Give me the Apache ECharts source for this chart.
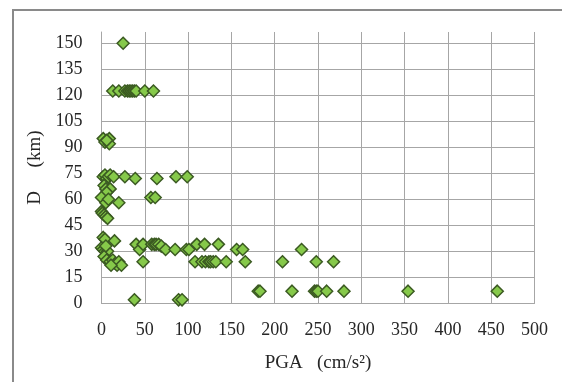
<!DOCTYPE html>
<html>
<head>
<meta charset="utf-8">
<script src="https://cdn.jsdelivr.net/npm/echarts@6/dist/echarts.min.js"></script>
<style>
  html, body { margin: 0; padding: 0; background: #ffffff; }
  #chart { width: 562px; height: 382px; }
</style>
</head>
<body>
<div id="chart"></div>
<script>
// Peak ground acceleration (cm/s²) against distance D (km), one entry per record
const pga = [
  25,
  13, 20, 27, 30, 32, 34, 36, 38, 40, 50, 60,
  2, 9, 4, 9, 6,
  2, 4, 6, 8, 10, 14, 27, 39, 64, 86, 99,
  3, 5, 10, 6,
  0, 5, 8, 20, 57, 62,
  0, 1, 3, 5, 7,
  2, 4, 15,
  0, 2, 4, 7, 5,
  3, 6, 10, 13, 16, 18, 20, 23, 11,
  40, 44, 48, 58, 61, 63, 66, 69, 74, 85, 98, 101, 110, 119, 135, 156, 163, 231,
  48, 108, 116, 120, 124, 126, 129, 132, 144, 166, 209, 248, 268,
  181, 183, 220, 246, 248, 250, 260, 280, 354, 457,
  38, 89, 93
];
const distance = [
  150,
  122.5, 122.5, 122.5, 122.5, 122.5, 122.5, 122.5, 122.5, 122.5, 122.5, 122.5,
  95, 95, 93, 92, 94,
  73, 74, 72, 73, 74, 73, 73, 72, 72, 73, 73,
  68, 66, 66, 64,
  61, 58, 60, 58, 61, 61,
  53, 52, 51, 50, 49,
  38, 37, 36,
  32, 31, 30, 30, 33,
  27, 25, 24, 25, 23, 22, 24, 22, 22,
  34, 31, 34, 34, 34, 34, 34, 33, 31, 31, 31, 31, 34, 34, 34, 31, 31, 31,
  24, 24, 24, 24, 24, 24, 24, 24, 24, 24, 24, 24, 24,
  7, 7, 7, 7, 7, 7, 7, 7, 7, 7,
  2, 2, 2
];
const xTitle = 'PGA   (cm/s²)';
const yTitle = 'D     (km)';

const points = pga.map((v, i) => [v, distance[i]]);

const chart = echarts.init(document.getElementById('chart'), null, { renderer: 'canvas' });
const textFont = 'Liberation Serif';
const gridColor = '#a6a6a6';

chart.setOption({
  backgroundColor: '#ffffff',
  animation: false,
  graphic: [{
    type: 'rect',
    shape: { x: 13, y: 10, width: 620, height: 420 },
    style: { fill: 'none', stroke: '#8a8a8a', lineWidth: 2 },
    silent: true
  }],
  grid: { left: 101.5, right: 27.5, top: 32, bottom: 78.7, containLabel: false },
  xAxis: {
    type: 'value',
    min: 0, max: 500, interval: 50,
    name: xTitle,
    nameLocation: 'middle',
    nameGap: 50,
    nameTextStyle: { fontFamily: textFont, fontSize: 19, color: '#262626' },
    axisLine: { show: true, lineStyle: { color: gridColor, width: 1 } },
    axisTick: { show: false },
    axisLabel: { fontFamily: textFont, fontSize: 18, color: '#262626', margin: 18 },
    splitLine: { show: true, lineStyle: { color: gridColor, width: 1 } }
  },
  yAxis: {
    type: 'value',
    min: 0, max: 156.5, interval: 15,
    name: yTitle,
    nameLocation: 'middle',
    nameGap: 57,
    nameRotate: 90,
    nameTextStyle: { fontFamily: textFont, fontSize: 19, color: '#262626' },
    axisLine: { show: true, lineStyle: { color: gridColor, width: 1 } },
    axisTick: { show: false },
    axisLabel: {
      fontFamily: textFont, fontSize: 18, color: '#262626', margin: 19,
      showMaxLabel: false,
      formatter: v => (v % 15 === 0 ? String(v) : '')
    },
    splitLine: { show: true, showMaxLine: false, lineStyle: { color: gridColor, width: 1 } }
  },
  series: [{
    type: 'scatter',
    data: points,
    symbol: 'diamond',
    symbolSize: 12,
    itemStyle: { color: '#86c94a', borderColor: '#3b5a22', borderWidth: 1.5, opacity: 1 }
  }]
});
</script>
</body>
</html>
